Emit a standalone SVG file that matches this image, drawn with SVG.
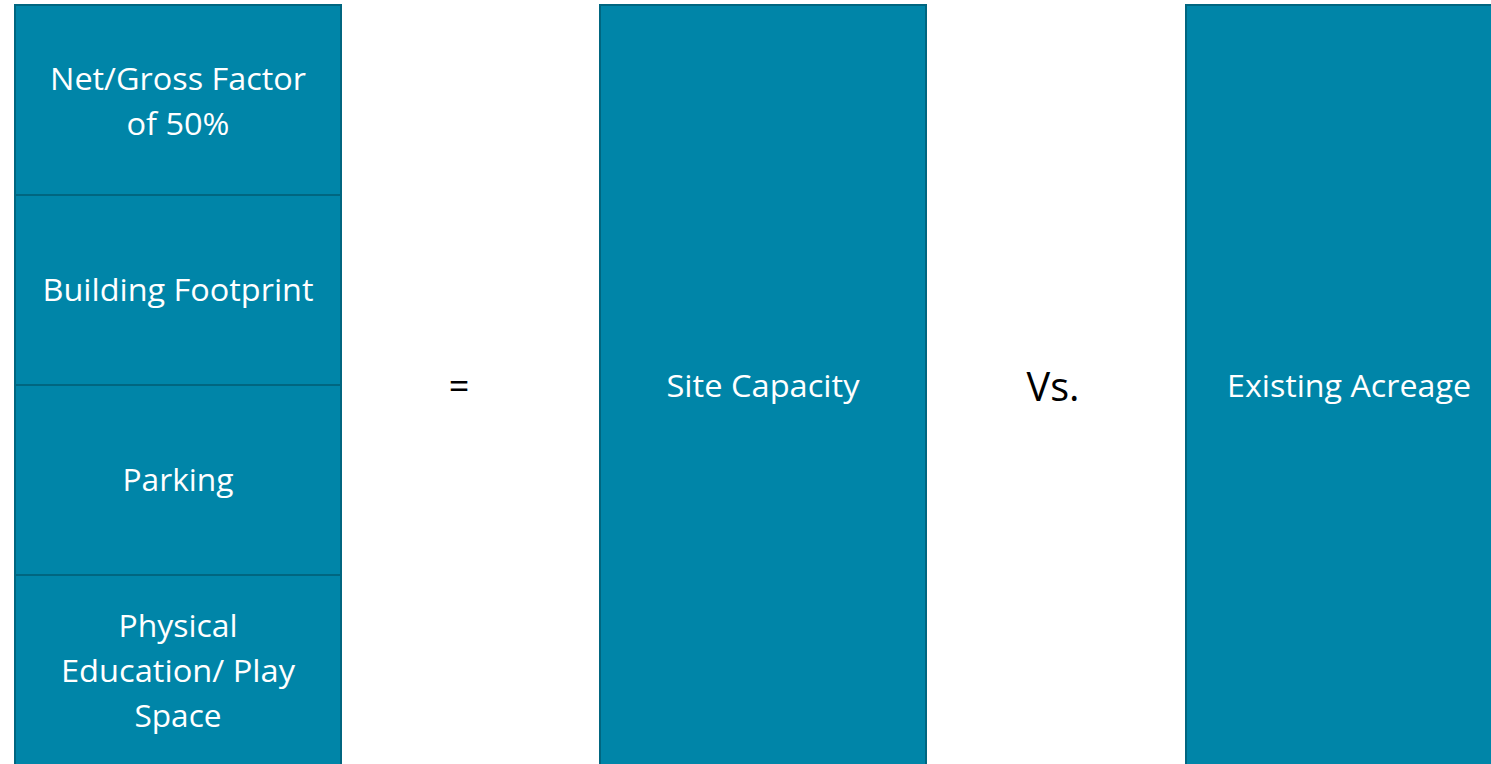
<svg xmlns="http://www.w3.org/2000/svg" width="1491" height="764" viewBox="0 0 1491 764">
<style>
.box{fill:#0085A8;stroke:#006680;stroke-width:2}
.t{font-family:"Open Sans","Liberation Sans",sans-serif;font-size:30.5px;fill:#ffffff;text-anchor:middle}
.k{font-family:"Open Sans","Liberation Sans",sans-serif;fill:#000000;text-anchor:middle}
</style>
<rect width="1491" height="764" fill="#ffffff"/>
<g id="net-gross">
<rect class="box" x="15" y="5" width="326" height="190"/>
<text class="t" x="178" y="90" textLength="256" lengthAdjust="spacingAndGlyphs">Net/Gross Factor</text>
<text class="t" x="178" y="135" textLength="103" lengthAdjust="spacingAndGlyphs">of 50%</text>
</g>
<g id="building-footprint">
<rect class="box" x="15" y="195" width="326" height="190"/>
<text class="t" x="178" y="301" textLength="271" lengthAdjust="spacingAndGlyphs">Building Footprint</text>
</g>
<g id="parking">
<rect class="box" x="15" y="385" width="326" height="190"/>
<text class="t" x="178" y="491" textLength="111" lengthAdjust="spacingAndGlyphs">Parking</text>
</g>
<g id="pe-play">
<rect class="box" x="15" y="575" width="326" height="200"/>
<text class="t" x="178" y="637" textLength="119" lengthAdjust="spacingAndGlyphs">Physical</text>
<text class="t" x="178" y="682" textLength="234" lengthAdjust="spacingAndGlyphs">Education/ Play</text>
<text class="t" x="178" y="727" textLength="87" lengthAdjust="spacingAndGlyphs">Space</text>
</g>
<g id="equals">
<text class="k" x="459" y="399" font-size="36">=</text>
</g>
<g id="site-capacity">
<rect class="box" x="600" y="5" width="326" height="770"/>
<text class="t" x="763" y="397" textLength="193" lengthAdjust="spacingAndGlyphs">Site Capacity</text>
</g>
<g id="vs">
<text class="k" x="1053" y="401" font-size="40" textLength="53" lengthAdjust="spacingAndGlyphs">Vs.</text>
</g>
<g id="existing-acreage">
<rect class="box" x="1186" y="5" width="330" height="770"/>
<text class="t" x="1349" y="397" textLength="244" lengthAdjust="spacingAndGlyphs">Existing Acreage</text>
</g>
<g id="connectors"></g>
</svg>
